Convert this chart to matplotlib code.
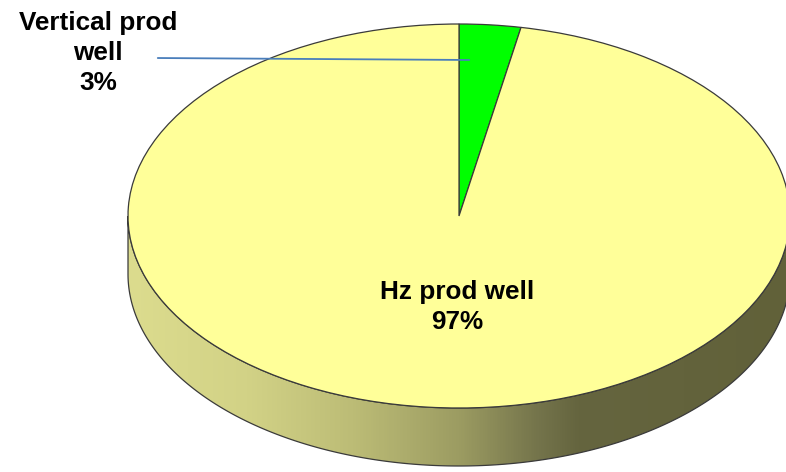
import numpy as np
import matplotlib
matplotlib.use("Agg")
import matplotlib.pyplot as plt
from matplotlib.patches import Wedge, Polygon
from matplotlib.colors import LinearSegmentedColormap

# well type split
labels = ["Vertical prod\nwell", "Hz prod well"]
shares = [3, 97]
top_colors = ["#00FF00", "#FFFF99"]

# canvas geometry in pixels
W, H = 786, 472
CX, CY = 459, 216        # pie centre
RX, RY = 331, 192        # ellipse radii
DEPTH = 58               # side wall thickness


def px(x, y):
    """pixel position -> data units (unit circle = top ellipse)"""
    return (x - CX) / RX, (CY - y) / RY


fig = plt.figure(figsize=(W / 100, H / 100), dpi=100)
ax = fig.add_axes([0, 0, 1, 1])
x0, y1 = px(0, 0)
x1, y0 = px(W, H)
ax.set_xlim(x0, x1)
ax.set_ylim(y0, y1)
ax.axis("off")

d = DEPTH / RY
EDGE = "#3a3a3a"

# front side wall (only the big slice shows there)
t = np.linspace(np.pi, 2 * np.pi, 300)
upper = np.column_stack([np.cos(t), np.sin(t)])
lower = np.column_stack([np.cos(t[::-1]), np.sin(t[::-1]) - d])
wall = Polygon(np.vstack([upper, lower]), closed=True, facecolor="none",
               edgecolor=EDGE, lw=0.9, zorder=3)
ax.add_patch(wall)

stops = [(0.0, "#dcdc8e"), (0.18, "#d2d286"), (0.34, "#bcbc76"),
         (0.50, "#9c9c62"), (0.62, "#74744b"), (0.68, "#65653f"),
         (1.0, "#616139")]
shade = LinearSegmentedColormap.from_list("wall", stops)
grad = np.linspace(0, 1, 512).reshape(1, -1)
img = ax.imshow(grad, cmap=shade, extent=(-1, 1, -1 - d, 0.05),
                aspect="auto", zorder=2, interpolation="bilinear")
img.set_clip_path(wall)

# top face wedges, clockwise from 12 o'clock
start = 90.0
for share, col in zip(shares, top_colors):
    sweep = share / sum(shares) * 360
    w = Wedge((0, 0), 1, start - sweep, start, facecolor=col,
              edgecolor=EDGE, lw=0.9, zorder=4)
    ax.add_patch(w)
    start -= sweep

font = dict(family=["Liberation Sans", "DejaVu Sans"], weight="bold",
            fontsize=18.8, color="black", ha="center", va="center",
            linespacing=1.33)

# small slice label with leader line
ax.annotate("", xy=px(472, 60), xytext=px(155, 58),
            arrowprops=dict(arrowstyle="-", color="#4a7ebb", lw=1.3),
            zorder=6)
ax.text(*px(98, 53), f"{labels[0]}\n{shares[0]}%", zorder=6, **font)

# big slice label
ax.text(*px(457, 307), f"{labels[1]}\n{shares[1]}%", zorder=6, **font)

fig.savefig("out.png", dpi=100, facecolor="white")
